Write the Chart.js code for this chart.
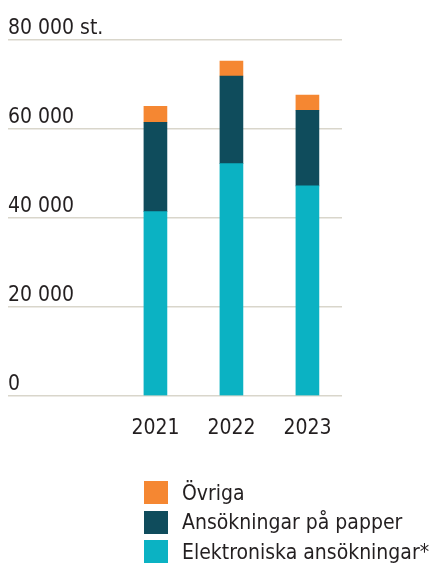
<!DOCTYPE html>
<html>
<head>
<meta charset="utf-8">
<script src="https://cdn.jsdelivr.net/npm/chart.js@4/dist/chart.umd.min.js"></script>
<style>
  html, body { margin: 0; padding: 0; background: #ffffff; }
  #wrap { position: relative; width: 434px; height: 563px; }
  #c { position: absolute; left: 0; top: 0; }
  #legend { position: absolute; left: 144px; top: 478px; font-family: 'Liberation Sans Narrow', 'DejaVu Sans Condensed', 'Liberation Sans', sans-serif; font-size: 21px; color: #231f20; }
  .row { display: flex; align-items: center; height: 29.5px; white-space: nowrap; }
  .box { width: 24px; height: 23px; margin-right: 14px; flex: none; }
</style>
</head>
<body>
<div id="wrap">
  <canvas id="c" width="434" height="563"></canvas>
  <div id="legend"></div>
</div>
<script>
const categories = [2021, 2022, 2023];
const elektroniska = [41400, 52200, 47200];
const papper = [20100, 19700, 17000];
const ovriga = [3600, 3350, 3400];
const yTickValues = [0, 20000, 40000, 60000, 80000];
const yTickLabels = ['0', '20 000', '40 000', '60 000', '80 000 st.'];
const seriesNames = ['Elektroniska ansökningar*', 'Ansökningar på papper', 'Övriga'];

const FONT = "'Liberation Sans Narrow', 'DejaVu Sans Condensed', 'Liberation Sans', sans-serif";
const TEXT = '#231f20';

const toPoints = arr => arr.map((v, i) => ({ x: categories[i], y: v }));

const chart = new Chart(document.getElementById('c'), {
  type: 'bar',
  data: {
    datasets: [
      { label: seriesNames[0], data: toPoints(elektroniska), backgroundColor: '#0bb2c3' },
      { label: seriesNames[1], data: toPoints(papper), backgroundColor: '#0f4c5c' },
      { label: seriesNames[2], data: toPoints(ovriga), backgroundColor: '#f58732' }
    ]
  },
  options: {
    responsive: false,
    animation: false,
    barThickness: 23,
    layout: { padding: { top: 40, left: 8, right: 92, bottom: 102 } },
    plugins: {
      legend: { display: false },
      tooltip: { enabled: false }
    },
    scales: {
      x: {
        type: 'linear',
        stacked: true,
        offset: false,
        min: 2019.06,
        max: 2023.455,
        grid: { display: false, drawTicks: false },
        border: { display: false },
        afterBuildTicks: scale => { scale.ticks = categories.map(v => ({ value: v })); },
        ticks: {
          padding: 20,
          color: TEXT,
          font: { family: FONT, size: 21 },
          callback: v => String(v)
        }
      },
      y: {
        stacked: true,
        min: 0,
        max: 80000,
        afterBuildTicks: scale => { scale.ticks = yTickValues.map(v => ({ value: v })); },
        grid: { color: '#d9d6cb', lineWidth: 1.5, drawTicks: false },
        border: { display: false },
        ticks: {
          mirror: true,
          padding: 0,
          labelOffset: -11,
          color: TEXT,
          font: { family: FONT, size: 21 },
          callback: (v, i) => yTickLabels[yTickValues.indexOf(v)]
        }
      }
    }
  }
});

// HTML legend built from the chart's own legend items (reversed order)
const items = chart.options.plugins.legend.labels.generateLabels(chart).slice().reverse();
const legendEl = document.getElementById('legend');
items.forEach(it => {
  const row = document.createElement('div');
  row.className = 'row';
  const box = document.createElement('span');
  box.className = 'box';
  box.style.background = it.fillStyle;
  const txt = document.createElement('span');
  txt.textContent = it.text;
  row.appendChild(box);
  row.appendChild(txt);
  legendEl.appendChild(row);
});
</script>
</body>
</html>
